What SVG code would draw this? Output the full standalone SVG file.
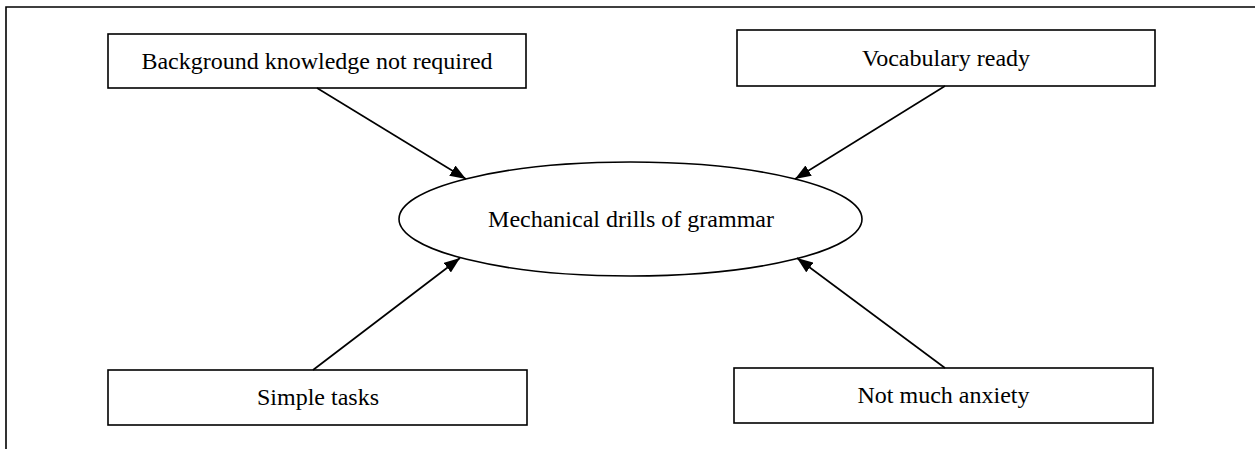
<svg xmlns="http://www.w3.org/2000/svg" width="1255" height="449" viewBox="0 0 1255 449">
<style>
.box{fill:#fff;stroke:#000;stroke-width:1.6}
.lbl{font-family:"Liberation Serif","Times New Roman",serif;font-size:24px;fill:#000;text-anchor:middle}
.edge{stroke:#000;stroke-width:1.6;fill:none;marker-end:url(#ah)}
.frame{stroke:#000;stroke-width:1.6;fill:none}
</style>
<defs>
<marker id="ah" markerWidth="16" markerHeight="12" refX="16" refY="6" orient="auto" markerUnits="userSpaceOnUse">
<path d="M0,0 L16,6 L0,12 Z" fill="#000"/>
</marker>
</defs>
<rect width="1255" height="449" fill="#fff"/>
<path class="frame" d="M6,449 L6,7 L1255,7"/>
<g id="center">
<ellipse class="box" cx="630.5" cy="219" rx="231.5" ry="57"/>
<text class="lbl" x="631" y="227">Mechanical drills of grammar</text>
</g>
<g id="n-background">
<rect class="box" x="108" y="34" width="418" height="54"/>
<text class="lbl" x="317" y="69">Background knowledge not required</text>
</g>
<g id="n-vocabulary">
<rect class="box" x="737" y="30" width="418" height="56"/>
<text class="lbl" x="946" y="66">Vocabulary ready</text>
</g>
<g id="n-simple">
<rect class="box" x="108" y="370" width="419" height="55"/>
<text class="lbl" x="318" y="405">Simple tasks</text>
</g>
<g id="n-anxiety">
<rect class="box" x="734" y="368" width="419" height="55"/>
<text class="lbl" x="943.5" y="403">Not much anxiety</text>
</g>
<g id="connectors">
<line class="edge" x1="317" y1="88" x2="466" y2="179"/>
<line class="edge" x1="945" y1="86" x2="795" y2="179"/>
<line class="edge" x1="313" y1="370" x2="460" y2="258"/>
<line class="edge" x1="945" y1="368" x2="797" y2="258"/>
</g>
</svg>
